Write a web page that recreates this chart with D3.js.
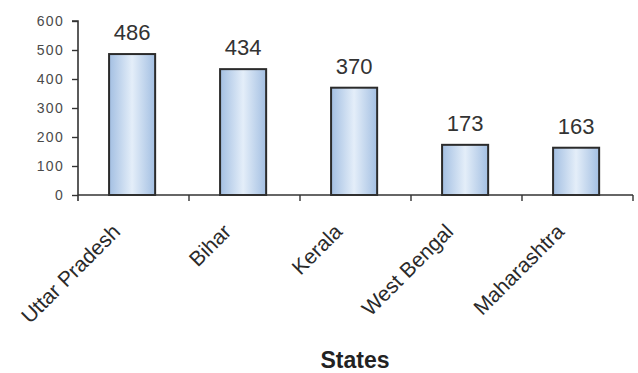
<!DOCTYPE html>
<html>
<head>
<meta charset="utf-8">
<script src="https://cdn.jsdelivr.net/npm/d3@7/dist/d3.min.js"></script>
<style>
  html, body { margin: 0; padding: 0; background: #fff; }
  svg { display: block; }
</style>
</head>
<body>
<svg id="chart" width="638" height="373"></svg>
<script>
// Chart data
const states = ["Uttar Pradesh", "Bihar", "Kerala", "West Bengal", "Maharashtra"];
const counts = [486, 434, 370, 173, 163];
const yTicks = [0, 100, 200, 300, 400, 500, 600];
const xTitle = "States";

const svg = d3.select("#chart");
const margin = { left: 78, right: 5, top: 21, bottom: 178 };
const W = 638, H = 373;

const x = d3.scaleBand()
  .domain(states)
  .range([margin.left, W - margin.right])
  .padding(0);

const y = d3.scaleLinear()
  .domain([0, 600])
  .range([H - margin.bottom, margin.top]);

// Horizontal gradient that gives the bars a rounded look
const defs = svg.append("defs");
const grad = defs.append("linearGradient")
  .attr("id", "barFill")
  .attr("x1", "0%").attr("x2", "100%").attr("y1", "0%").attr("y2", "0%");
grad.append("stop").attr("offset", "0%").attr("stop-color", "#a3bfe2");
grad.append("stop").attr("offset", "50%").attr("stop-color", "#e4eef9");
grad.append("stop").attr("offset", "100%").attr("stop-color", "#a3bfe2");

const step = x.step();
const barOffset = step * 0.28;
const barWidth = step * 0.415;

// Bars
svg.append("g")
  .selectAll("rect")
  .data(states)
  .join("rect")
  .attr("x", (d) => x(d) + barOffset)
  .attr("y", (d, i) => y(counts[i]))
  .attr("width", barWidth)
  .attr("height", (d, i) => y(0) - y(counts[i]))
  .attr("fill", "url(#barFill)")
  .attr("stroke", "#2b2b2b")
  .attr("stroke-width", 2);

// Value labels
svg.append("g")
  .selectAll("text")
  .data(states)
  .join("text")
  .attr("x", (d) => x(d) + barOffset + barWidth / 2)
  .attr("y", (d, i) => y(counts[i]) - 14)
  .attr("text-anchor", "middle")
  .attr("font-family", "Liberation Sans, Arial, sans-serif")
  .attr("font-size", 22)
  .attr("fill", "#333")
  .text((d, i) => counts[i]);

// Y axis
const yAxis = d3.axisLeft(y)
  .tickValues(yTicks)
  .tickSize(6)
  .tickPadding(8)
  .tickFormat(d3.format("d"));

const gy = svg.append("g")
  .attr("transform", `translate(${margin.left},0)`)
  .call(yAxis);
gy.select(".domain").attr("stroke", "#333").attr("stroke-width", 1.6)
  .attr("d", `M-6,${y(600)}H0V${y(0) + 6}`);
gy.selectAll(".tick line").attr("stroke", "#333").attr("stroke-width", 1.4);
gy.selectAll(".tick text")
  .attr("font-family", "Liberation Sans, Arial, sans-serif")
  .attr("font-size", 14)
  .attr("letter-spacing", 1.3)
  .attr("fill", "#4a4a4a");

// X axis: baseline with ticks between categories
const gx = svg.append("g").attr("transform", `translate(0,${y(0)})`);
gx.append("line")
  .attr("x1", margin.left).attr("x2", W - margin.right)
  .attr("stroke", "#333").attr("stroke-width", 1.6);
const boundaries = states.map((d) => x(d) + step);
gx.selectAll("line.tick")
  .data(boundaries)
  .join("line")
  .attr("class", "tick")
  .attr("x1", (d) => d).attr("x2", (d) => d)
  .attr("y1", 0).attr("y2", 6)
  .attr("stroke", "#333").attr("stroke-width", 1.4);

// Rotated category labels
gx.selectAll("text")
  .data(states)
  .join("text")
  .attr("transform", (d) => `translate(${x(d) + step / 2 - 12},${38}) rotate(-45)`)
  .attr("text-anchor", "end")
  .attr("font-family", "Liberation Sans, Arial, sans-serif")
  .attr("font-size", 21)
  .attr("fill", "#2a2a2a")
  .text((d) => d);

// Axis title
svg.append("text")
  .attr("x", 355)
  .attr("y", 368)
  .attr("text-anchor", "middle")
  .attr("font-family", "Liberation Sans, Arial, sans-serif")
  .attr("font-weight", "bold")
  .attr("font-size", 23)
  .attr("fill", "#222")
  .text(xTitle);
</script>
</body>
</html>
